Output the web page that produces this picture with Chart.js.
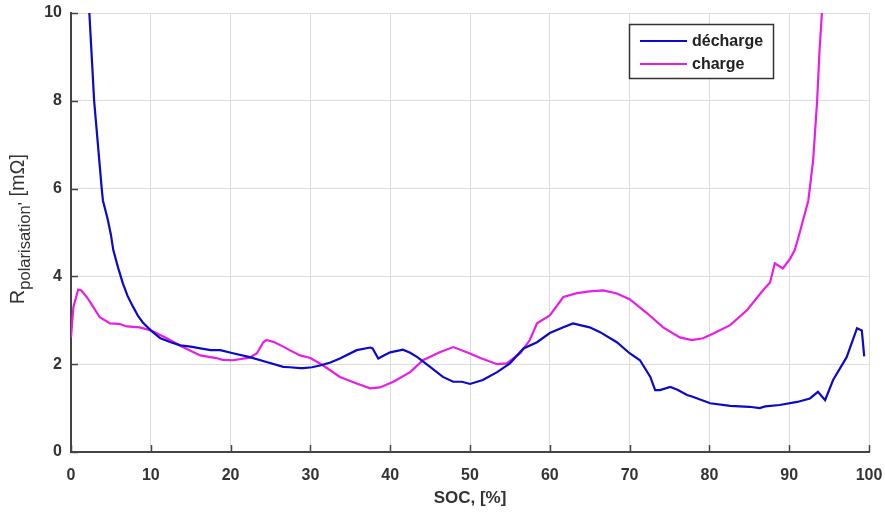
<!DOCTYPE html>
<html><head><meta charset="utf-8">
<script src="https://cdn.jsdelivr.net/npm/chart.js@4/dist/chart.umd.min.js"></script>
<style>html,body{margin:0;padding:0;background:#fff}#wrap{width:885px;height:512px}</style>
</head><body><div id="wrap"><canvas id="c" width="885" height="512"></canvas></div>
<script>
const socDecharge = [2.3,2.9,3.85,4.0,4.6,5.0,5.3,5.9,6.5,7.1,7.8,8.4,9.0,10,11.2,12.5,13.7,15,16.2,17.5,18.7,20.3,22.4,24.5,26.6,27.4,28.7,29.1,30.2,31.2,32.5,33.7,35.8,37.5,37.8,38.5,39.2,40,41.6,42.5,43.4,45,46.6,47.9,49,50,51.6,53.4,55,56.7,58.4,60,61.7,62.9,63.8,65,66.3,68.4,70,71.3,72.6,73.2,73.8,75.1,76,77.2,77.9,80.1,82.6,85,86.3,87,88.8,91,92.6,93.6,94.5,95.5,97.2,98.5,99.1,99.4];
const rDecharge = [10,8,6,5.73,5.3,4.95,4.6,4.2,3.84,3.55,3.3,3.1,2.95,2.77,2.59,2.5,2.43,2.4,2.36,2.32,2.32,2.25,2.16,2.05,1.94,1.93,1.91,1.91,1.93,1.97,2.04,2.13,2.32,2.38,2.36,2.13,2.2,2.27,2.33,2.26,2.16,1.94,1.71,1.6,1.6,1.55,1.64,1.82,2.02,2.36,2.5,2.71,2.84,2.93,2.89,2.84,2.73,2.5,2.25,2.09,1.71,1.41,1.41,1.48,1.42,1.3,1.26,1.11,1.05,1.03,1.0,1.04,1.07,1.14,1.22,1.37,1.18,1.64,2.16,2.82,2.77,2.18];
const socCharge = [0,0.3,0.9,1.3,2.1,2.8,3.6,4.9,6,7,8.6,10,12,14,16.2,18.2,19,20.3,22.4,23.3,24.1,24.5,25.5,26.6,27.4,28.7,30,31.6,33.7,35.8,37.5,38.7,40.4,42.5,44.1,46.2,47.9,49.6,51.3,53.4,54.6,56.3,57.5,58.4,60,61.7,63.4,65,66.7,68.4,70,72.2,74.2,76.3,77.8,79.2,80.5,82.6,84.7,86.7,87.6,88.2,89.2,90.1,90.7,91.4,92.4,93,93.5,93.8,94.1];
const rCharge = [2.61,3.3,3.7,3.68,3.5,3.3,3.07,2.93,2.92,2.86,2.84,2.77,2.59,2.39,2.2,2.14,2.1,2.09,2.15,2.25,2.5,2.55,2.5,2.4,2.32,2.2,2.14,1.97,1.71,1.56,1.45,1.47,1.6,1.82,2.09,2.27,2.39,2.27,2.14,2.0,2.02,2.25,2.55,2.93,3.11,3.53,3.62,3.66,3.68,3.61,3.48,3.16,2.84,2.61,2.55,2.59,2.7,2.89,3.23,3.68,3.86,4.3,4.18,4.4,4.6,5.05,5.73,6.64,8,9.14,10];
const seriesLabels = ['décharge','charge'];
const xTicks = [0,10,20,30,40,50,60,70,80,90,100];
const yTicks = [0,2,4,6,8,10];

const blue = '#0a0ac8', mag = '#e61ee6';
const FONT = '"Liberation Sans", Arial, sans-serif';

const overlay = {
  id:'overlay',
  afterDraw(chart){
    const ctx = chart.ctx, a = chart.chartArea, xs = chart.scales.x, ys = chart.scales.y;
    ctx.save();
    ctx.strokeStyle = '#444'; ctx.lineWidth = 1.5;
    xTicks.forEach(v=>{const px=Math.round(xs.getPixelForValue(v))+0.5;ctx.beginPath();ctx.moveTo(px,a.bottom);ctx.lineTo(px,a.bottom-7);ctx.stroke();});
    yTicks.forEach(v=>{const py=Math.round(ys.getPixelForValue(v))+0.5;ctx.beginPath();ctx.moveTo(a.left,py);ctx.lineTo(a.left+7,py);ctx.stroke();});
    ctx.fillStyle = '#333'; ctx.font = 'bold 17px '+FONT; ctx.textAlign='center'; ctx.textBaseline='middle';
    ctx.fillText('SOC, [%]', (a.left+a.right)/2, 498);
    ctx.translate(24, 229); ctx.rotate(-Math.PI/2);
    const f1 = '20px '+FONT, f2 = '16.5px '+FONT;
    ctx.font=f1; const wR = ctx.measureText('R').width; const wB = ctx.measureText(' [mΩ]').width;
    ctx.font=f2; const wS = ctx.measureText("polarisation'").width;
    let x0 = -(wR+wS+wB)/2;
    ctx.textAlign='left'; ctx.textBaseline='alphabetic';
    ctx.font=f1; ctx.fillText('R', x0, 0); x0+=wR;
    ctx.font=f2; ctx.fillText("polarisation'", x0, 6); x0+=wS;
    ctx.font=f1; ctx.fillText(' [mΩ]', x0, 0);
    ctx.restore();
    ctx.save();
    const lx=629, ly=24, lw=144, lh=54;
    ctx.fillStyle='#fff'; ctx.fillRect(lx,ly,lw,lh);
    ctx.strokeStyle='#333'; ctx.lineWidth=1.5; ctx.strokeRect(lx+0.5,ly+0.5,lw,lh);
    ctx.font='bold 16px '+FONT; ctx.textBaseline='middle'; ctx.textAlign='left';
    [[blue,seriesLabels[0],42],[mag,seriesLabels[1],65]].forEach(([c,t,y])=>{
      ctx.strokeStyle=c; ctx.lineWidth=2; ctx.beginPath(); ctx.moveTo(640,y-1); ctx.lineTo(687,y-1); ctx.stroke();
      ctx.fillStyle='#222'; ctx.fillText(t,692,y);
    });
    ctx.restore();
  }
};

new Chart(document.getElementById('c'), {
  type:'line',
  data:{datasets:[
    {label:seriesLabels[0], data:socDecharge.map((x,i)=>({x,y:rDecharge[i]})), borderColor:blue, borderWidth:2.2, pointRadius:0, tension:0, fill:false},
    {label:seriesLabels[1], data:socCharge.map((x,i)=>({x,y:rCharge[i]})), borderColor:mag, borderWidth:2.2, pointRadius:0, tension:0, fill:false}
  ]},
  options:{
    responsive:false, animation:false, devicePixelRatio:1,
    layout:{padding:{top:13,right:16,left:0,bottom:0}},
    plugins:{legend:{display:false}, tooltip:{enabled:false}},
    scales:{
      x:{type:'linear', min:0, max:100,
        afterBuildTicks(s){s.ticks=xTicks.map(v=>({value:v}));},
        afterFit(s){s.height=60; s.paddingLeft=0; s.paddingRight=0;},
        grid:{color:'#dcdcdc', lineWidth:1, drawTicks:false},
        border:{color:'#444', width:2},
        ticks:{padding:14, color:'#333', font:{family:FONT, size:16, weight:'bold'}, maxRotation:0}
      },
      y:{type:'linear', min:0, max:10,
        afterBuildTicks(s){s.ticks=yTicks.map(v=>({value:v}));},
        afterFit(s){s.width=71; s.paddingTop=0; s.paddingBottom=0;},
        grid:{color:'#dcdcdc', lineWidth:1, drawTicks:false},
        border:{color:'#444', width:2},
        ticks:{padding:9, color:'#333', font:{family:FONT, size:16, weight:'bold'}}
      }
    }
  },
  plugins:[overlay]
});
</script></body></html>
